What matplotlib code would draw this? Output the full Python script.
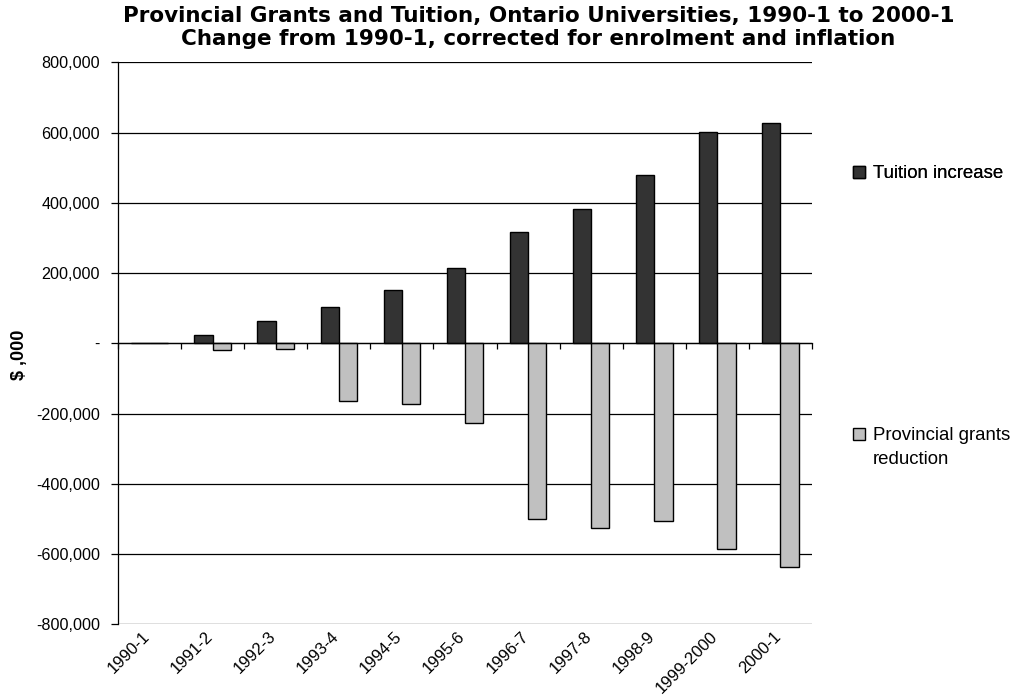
import matplotlib
matplotlib.use("Agg")
import matplotlib.pyplot as plt
import matplotlib.transforms as mtransforms
import numpy as np

plt.rcParams['font.family'] = ['Liberation Sans', 'DejaVu Sans']

years = ["1990-1", "1991-2", "1992-3", "1993-4", "1994-5", "1995-6",
         "1996-7", "1997-8", "1998-9", "1999-2000", "2000-1"]
tuition = [0, 22800, 63000, 103000, 151000, 214000,
           316000, 382000, 479000, 602000, 626000]
grants = [0, -19000, -17000, -163000, -174000, -226000,
          -499000, -525000, -507000, -586000, -637000]
yticks = [-800000, -600000, -400000, -200000, 0, 200000, 400000, 600000, 800000]
ylabels = ["-800,000", "-600,000", "-400,000", "-200,000", "-",
           "200,000", "400,000", "600,000", "800,000"]

fig = plt.figure(figsize=(10.13, 6.98), dpi=100)
ax = fig.add_axes([0.1165, 0.1056, 0.6851, 0.8051])

x = np.arange(len(years))
w = 0.29
b1 = ax.bar(x - w / 2, tuition, w, color="#333333", edgecolor="black", linewidth=1, zorder=3)
b2 = ax.bar(x + w / 2, grants, w, color="#c0c0c0", edgecolor="black", linewidth=1, zorder=3)

ax.set_xlim(-0.5, len(years) - 0.5)
ax.set_ylim(-800000, 800000)
ax.set_yticks(yticks)
ax.set_yticklabels(ylabels, fontsize=11.6)
ax.yaxis.grid(True, color="black", linewidth=0.9, zorder=0)
ax.tick_params(axis="y", direction="out", length=5, width=0.9, pad=8)

for s in ["top", "right"]:
    ax.spines[s].set_visible(False)
ax.spines["left"].set_linewidth(0.9)
# category axis sits on the zero line
ax.spines["bottom"].set_position(("data", 0))
ax.spines["bottom"].set_linewidth(0.9)
ax.spines["bottom"].set_zorder(4)
ax.set_xticks(np.arange(len(years) + 1) - 0.5)
ax.tick_params(axis="x", direction="out", length=4, width=0.9, labelbottom=False)

trans = mtransforms.blended_transform_factory(ax.transData, ax.transAxes)
for i, lab in enumerate(years):
    ax.text(i - 0.12, -0.008, lab, transform=trans, rotation=45, rotation_mode="anchor",
            ha="right", va="top", fontsize=12)

fig.text(0.019, 343 / 698, "$ ,000", rotation=90, ha="center", va="center",
         fontsize=13, fontweight="bold")
fig.text(0.5315, 1 - 6 / 698, "Provincial Grants and Tuition, Ontario Universities, 1990-1 to 2000-1\n"
         "Change from 1990-1, corrected for enrolment and inflation",
         ha="center", va="top", fontsize=15.5, fontweight="bold", linespacing=1.2,
         family=["DejaVu Sans"])

leg_kw = dict(loc="center left", frameon=False, fontsize=13.4,
              handlelength=0.65, handleheight=0.65, handletextpad=0.45,
              borderpad=0, borderaxespad=0)
leg1 = fig.legend([b1], ["Tuition increase"], bbox_to_anchor=(853 / 1013, 1 - 174 / 698), **leg_kw)
fig.add_artist(leg1)
fig.legend([b2], ["Provincial grants"], bbox_to_anchor=(853 / 1013, 1 - 436 / 698), **leg_kw)
# second line of the grants entry, under its label
fig.text(873 / 1013, 1 - 459 / 698, "reduction", ha="left", va="center", fontsize=13.4)

fig.savefig("out.png", dpi=100)
